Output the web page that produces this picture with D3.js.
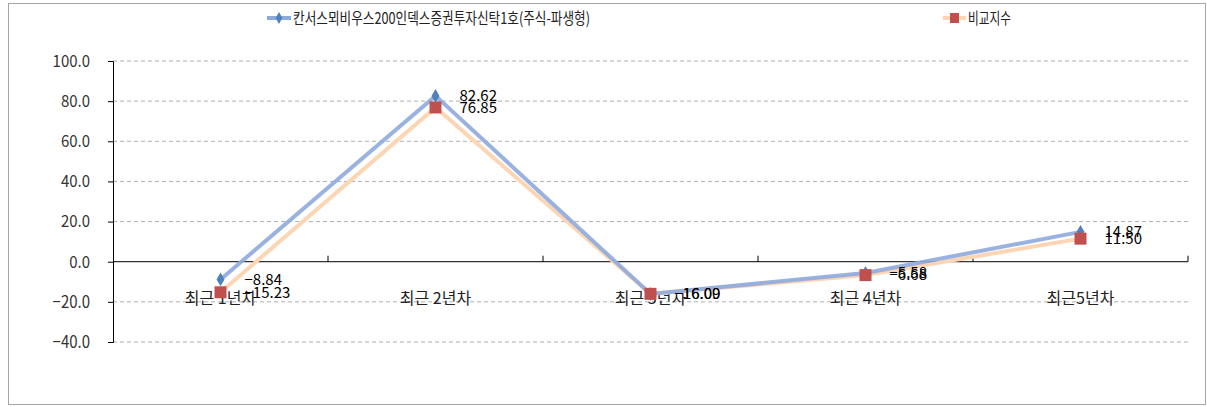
<!DOCTYPE html>
<html><head><meta charset="utf-8">
<script src="https://cdn.jsdelivr.net/npm/d3@7"></script>
<style>body{margin:0;background:#fff}svg{display:block}text{font-family:"Noto Sans CJK KR","Noto Sans",sans-serif}</style>
</head><body><svg id="c" width="1207" height="407"></svg>
<script>
const categories = ["최근 1년차","최근 2년차","최근 3년차","최근 4년차","최근5년차"];
const fundValues = [-8.84, 82.62, -16.09, -5.58, 14.87];
const benchValues = [-15.23, 76.85, -16.00, -6.68, 11.50];
const seriesNames = ["칸서스뫼비우스200인덱스증권투자신탁1호(주식-파생형)", "비교지수"];
const yTicks = [100, 80, 60, 40, 20, 0, -20, -40];

const svg = d3.select("#c");
svg.append("rect").attr("x",8.5).attr("y",3.5).attr("width",1197).attr("height",401)
  .attr("fill","#fff").attr("stroke","#a6a6a6");

const x = d3.scaleBand().domain(categories).range([113,1188]);
const y = d3.scaleLinear().domain([-40,100]).range([342,61]);

// gridlines
svg.append("g").selectAll("line").data(yTicks.filter(d=>d!==0)).join("line")
  .attr("x1",113).attr("x2",1188).attr("y1",d=>y(d)).attr("y2",d=>y(d))
  .attr("stroke","#b0b0b0").attr("stroke-dasharray","4,3");

// y axis
const yAxis = d3.axisLeft(y).tickValues(yTicks).tickFormat(d3.format(".1f")).tickSize(5).tickPadding(18);
const ya = svg.append("g").attr("transform","translate(113,0)").call(yAxis);
ya.select(".domain").attr("stroke","#000");
ya.selectAll(".tick line").attr("stroke","#000");
ya.selectAll("text").attr("font-size",15).attr("fill","#333").attr("font-family","Roboto, sans-serif")
  .attr("transform","scale(1,1.12)");

// x axis at zero
const xa = svg.append("g").attr("transform",`translate(0,${y(0)})`);
xa.append("line").attr("x1",113).attr("x2",1188).attr("stroke","#000");
const bounds = categories.map(c=>x(c)+x.bandwidth());
xa.selectAll(".tk").data(bounds).join("line").attr("class","tk")
  .attr("x1",d=>d).attr("x2",d=>d).attr("y1",0).attr("y2",-6).attr("stroke","#000");
svg.append("g").selectAll("text").data(categories).join("text")
  .attr("x",d=>x(d)+x.bandwidth()/2).attr("y",y(0)+37).attr("dy","0.35em").attr("text-anchor","middle")
  .attr("font-size",16).attr("fill","#222").text(d=>d);

const cx = d=>x(d)+x.bandwidth()/2;
const line = d3.line().x((d,i)=>cx(categories[i])).y(d=>y(d));

// bench line
svg.append("path").datum(benchValues).attr("d",line).attr("fill","none")
  .attr("stroke","#fcd5b4").attr("stroke-width",4);
// fund line
svg.append("path").datum(fundValues).attr("d",line).attr("fill","none")
  .attr("stroke","#8eaadb").attr("stroke-width",4).attr("opacity",0.9);

// fund markers (diamonds)
svg.append("g").selectAll("path").data(fundValues).join("path")
  .attr("d",d3.symbol(d3.symbolDiamond,55)())
  .attr("transform",(d,i)=>`translate(${cx(categories[i])},${y(d)})`)
  .attr("fill","#4f81bd");
// bench markers (squares)
svg.append("g").selectAll("rect").data(benchValues).join("rect")
  .attr("x",(d,i)=>cx(categories[i])-6).attr("y",d=>y(d)-6).attr("width",12).attr("height",12)
  .attr("fill","#c0504d");

// labels
const fmt = d3.format(".2f");
[fundValues, benchValues].forEach(arr=>{
  svg.append("g").selectAll("text").data(arr).join("text")
    .attr("x",(d,i)=>cx(categories[i])+24).attr("y",d=>y(d)).attr("dy","0.35em")
    .attr("font-size",15).attr("fill","#000").attr("font-family","Roboto, sans-serif")
    .text(d=>fmt(d));
});

// legend
const lg = svg.append("g");
lg.append("line").attr("x1",267).attr("x2",291).attr("y1",18).attr("y2",18).attr("stroke","#8eaadb").attr("stroke-width",4);
lg.append("path").attr("d",d3.symbol(d3.symbolDiamond,40)()).attr("transform","translate(279,18)").attr("fill","#4f81bd");
lg.append("text").attr("x",293).attr("y",18).attr("dy","0.35em").attr("font-size",16).attr("fill","#222")
  .attr("textLength",297).attr("lengthAdjust","spacingAndGlyphs").text(seriesNames[0]);
lg.append("line").attr("x1",943).attr("x2",966).attr("y1",18).attr("y2",18).attr("stroke","#fcd5b4").attr("stroke-width",4);
lg.append("rect").attr("x",950).attr("y",13).attr("width",9).attr("height",10).attr("fill","#c0504d");
lg.append("text").attr("x",968).attr("y",18).attr("dy","0.35em").attr("font-size",16).attr("fill","#222")
  .attr("textLength",43).attr("lengthAdjust","spacingAndGlyphs").text(seriesNames[1]);
</script></body></html>
